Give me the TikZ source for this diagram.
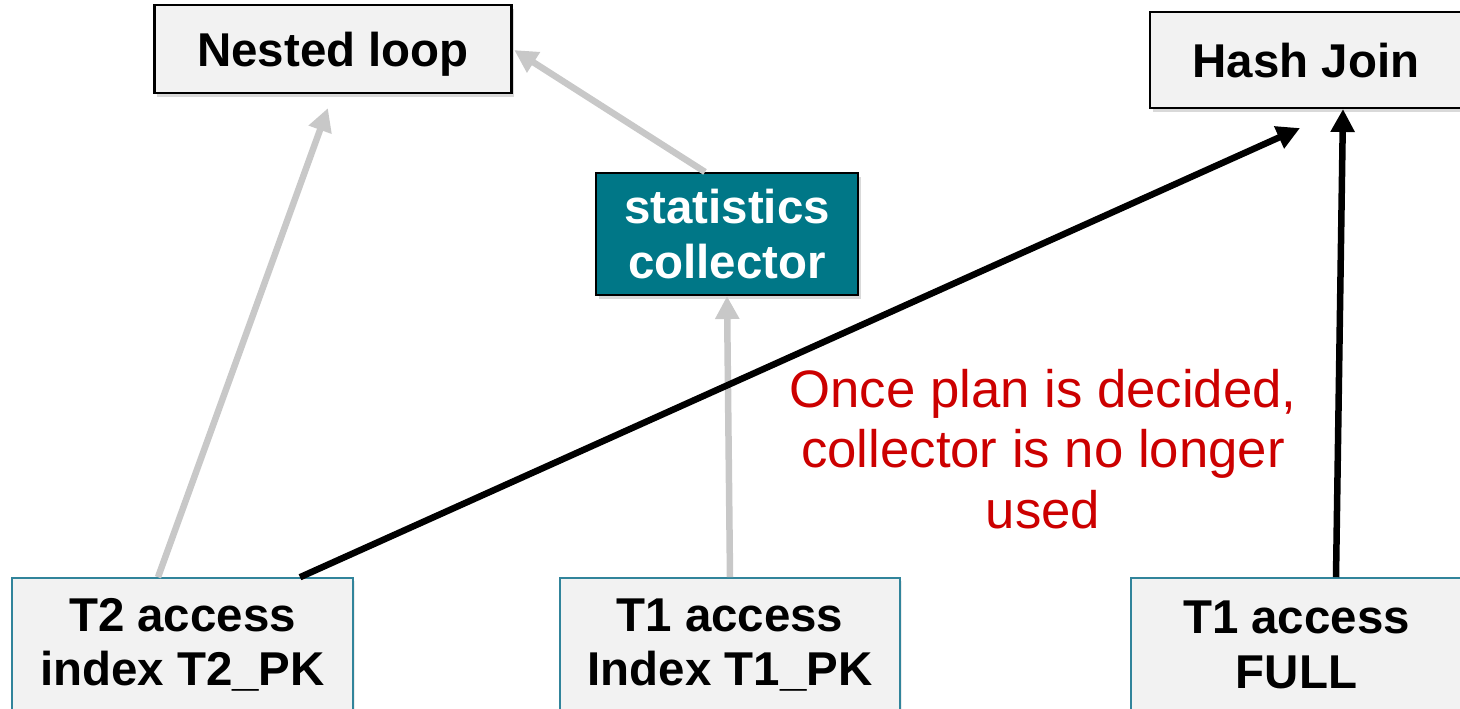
\documentclass[tikz,border=0pt]{standalone}
\usepackage{fontspec}
\setmainfont{Liberation Sans}
\usepackage{xcolor}
\usepackage{tikz}
\usetikzlibrary{arrows.meta,positioning,shadows}
\definecolor{boxfill}{HTML}{F2F2F2}
\definecolor{statfill}{HTML}{007787}
\definecolor{accessline}{HTML}{31849B}
\definecolor{unused}{HTML}{C8C8C8}
\definecolor{note}{HTML}{CC0000}

\begin{document}
\begin{tikzpicture}[
  plan/.style={draw, line width=1.2pt, fill=boxfill, align=center, inner sep=0pt, font=\fontsize{27}{31}\selectfont\bfseries,
    drop shadow={shadow xshift=0.05cm, shadow yshift=-0.08cm, opacity=0.3}},
  collector/.style={plan, fill=statfill, text=white},
  access/.style={draw=accessline, line width=0.9pt, fill=boxfill, align=center, inner sep=0pt, font=\fontsize{27}{31}\selectfont\bfseries,
    drop shadow={shadow xshift=0.04cm, shadow yshift=-0.05cm, opacity=0.15}},
  arr/.style={-{Triangle[length=0.46cm,width=0.46cm]}, line width=0.13cm, black},
  grayarr/.style={arr, unused}
]
  \useasboundingbox (0,0) rectangle (29.2,-14.18);

  \node[plan, text depth=0pt, minimum width=7.14cm, minimum height=1.76cm] (nl) at (6.66,-0.98) {Nested loop};
  \node[plan, text depth=0pt, minimum width=6.24cm, minimum height=1.92cm] (hj) at (26.12,-1.2) {Hash Join};
  \node[collector, minimum width=5.24cm, minimum height=2.44cm] (sc) at (14.54,-4.68) {statistics\\collector};
  \node[access, minimum width=6.82cm, minimum height=2.68cm] (t2) at (3.65,-12.9) {T2 access\\index T2\_PK};
  \node[access, minimum width=6.8cm, minimum height=2.68cm] (t1i) at (14.6,-12.9) {T1 access\\Index T1\_PK};
  \node[access, minimum width=6.62cm, minimum height=2.68cm] (t1f) at (25.93,-12.9) {T1 access\\FULL};

  \node[text=note, align=center, font=\fontsize{30}{34.6}\selectfont] (msg) at (20.86,-8.98)
    {Once plan is decided,\\collector is no longer\\used};

  % plan that is not taken
  \draw[grayarr, shorten >=0.3cm] ([xshift=-0.49cm]t2.north) -- (nl.south);
  \draw[grayarr, shorten >=0.04cm] ([xshift=-0.44cm]sc.north) -- (nl.east);
  \draw[grayarr] (t1i.north) -- (sc.south);

  % plan that is taken
  \draw[arr] ([xshift=2.35cm]t2.north) -- ([xshift=-0.12cm,yshift=-0.38cm]hj.south);
  \draw[arr] ([xshift=0.79cm]t1f.north) -- ([xshift=0.74cm]hj.south);
\end{tikzpicture}
\end{document}
